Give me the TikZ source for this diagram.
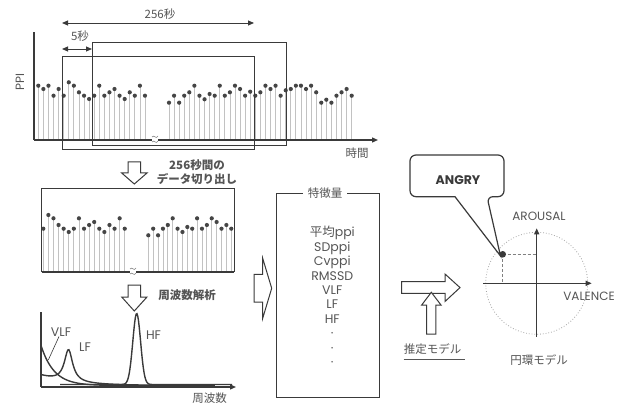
\documentclass[tikz,border=0pt]{standalone}
\usepackage{fontspec}
\setmainfont{Poppins}
\newfontfamily\jp{Noto Sans CJK JP}
\usetikzlibrary{arrows.meta}
\definecolor{ln}{HTML}{3A3A3A}
\definecolor{txt}{HTML}{555555}
\definecolor{stemc}{HTML}{C2C2C2}
\definecolor{dotc}{HTML}{454545}
\begin{document}
\begin{tikzpicture}[x=1pt,y=-1pt,
  axisline/.style={draw=ln,line width=1.3pt},
  stemline/.style={draw=stemc,line width=0.8pt},
  frame/.style={draw=ln,line width=1pt},
  blockarr/.style={draw=ln,line width=1pt,fill=white,line join=miter},
  jplbl/.style={text=txt,font=\jp\fontsize{11.5}{14}\selectfont,inner sep=0pt},
  latlbl/.style={text=txt,font=\fontsize{12}{14}\selectfont,inner sep=0pt},
  tip/.style={-{Triangle[length=6pt,width=5pt]}},
  dtip/.style={{Triangle[length=6pt,width=5pt]}-{Triangle[length=6pt,width=5pt]}},
  curve/.style={draw=ln,line width=1.4pt},
  squig/.style={draw=gray,line width=0.6pt}
]
\useasboundingbox (0,0) rectangle (625,404);
\fill[white] (0,0) rectangle (625,404);

% ================= top plot =================
\foreach \yy [count=\i from 0] in {85.7,89,85.7,95.7,89,95.7,82.3,85.7,92.3,95.7,99,95.7,85.7,95.7,92.3,89,95.7,99,92.3,95.7,85.7,95.7}{
  \pgfmathsetmacro\xx{38.3+5.08*\i}
  \draw[stemline] (\xx,140) -- (\xx,\yy);
  \fill[dotc] (\xx,\yy) circle[radius=2.1pt];
}
\foreach \yy [count=\i from 0] in {102.7,95.7,102.7,95.7,92.3,85.7,95.7,99.3,94,95.7,85.7,95.7,92.3,85.7,89,95.7,91.7,95.7,92.3,85.7,89,85.7,95.7,90.3,89,85.7,85.7,89,85.7,92.3,102.7,99.7,102.7,95.7,92.3,89,95.7}{
  \pgfmathsetmacro\xx{169+5.075*\i}
  \draw[stemline] (\xx,140) -- (\xx,\yy);
  \fill[dotc] (\xx,\yy) circle[radius=2.1pt];
}
\coordinate (o1) at (34,140);
\coordinate (y1) at (34,32);
\coordinate (x1) at (378,140);
\draw[axisline] (o1) -- (y1);
\draw[axisline,tip] (o1) -- (x1);
\node[latlbl,rotate=90] (ppi) at (20,82) {PPI};
\node[jplbl] (jikan) at (357,153) {時間};
% window rectangles
\draw[frame] (62,57) rectangle (254,150);
\draw[frame] (92,43) rectangle (286,146);
% span arrows
\coordinate (a256l) at (62,23);
\coordinate (a256r) at (254,23);
\draw[draw=ln,line width=0.9pt,dtip] (a256l) -- (a256r);
\node[jplbl] (t256) at (160,14) {256秒};
\coordinate (a5l) at (62,49);
\coordinate (a5r) at (92,49);
\draw[draw=ln,line width=0.9pt,dtip] (a5l) -- (a5r);
\node[jplbl] (t5) at (80,36) {5秒};
% break mark
\begin{scope}[shift={(155,139)}]
\fill[white] (-3,-4) rectangle (3,4);
\draw[squig] (-3,-2) .. controls (-1,-5) and (1,1) .. (3,-3);
\draw[squig] (-3,3) .. controls (-1,0) and (1,6) .. (3,2);
\end{scope}

% ================= arrow 1 =================
\draw[blockarr] (128,162) -- (140.5,162) -- (140.5,173) -- (147,173) -- (134.3,184) -- (121.7,173) -- (128,173) -- cycle;
\node[jplbl,font=\jp\bfseries\fontsize{11.5}{13.5}\selectfont,align=center] (cut) at (197,172) {256秒間の\\データ切り出し};

% ================= cut-out plot =================
\foreach \yy [count=\i from 0] in {228.7,215,218.3,225,228.7,232,228.7,218.3,228.7,225,222,228.7,232,225,228.7,218.3,228.7}{
  \pgfmathsetmacro\xx{43.3+5.09*\i}
  \draw[stemline] (\xx,272) -- (\xx,\yy);
  \fill[dotc] (\xx,\yy) circle[radius=2.1pt];
}
\foreach \yy [count=\i from 0] in {235.3,228.7,235.3,228.7,225,218.3,228.7,232,227,228.7,218.3,228.7,225,218.3,222,228.7,225,228.7}{
  \pgfmathsetmacro\xx{148.3+4.88*\i}
  \draw[stemline] (\xx,272) -- (\xx,\yy);
  \fill[dotc] (\xx,\yy) circle[radius=2.1pt];
}
\draw[frame] (41.5,272) -- (41.5,189) -- (234,189) -- (234,272);
\draw[axisline,line width=1.2pt] (41.5,272) -- (234,272);
\begin{scope}[shift={(133,271)}]
\fill[white] (-3,-4) rectangle (3,4);
\draw[squig] (-3,-2) .. controls (-1,-5) and (1,1) .. (3,-3);
\draw[squig] (-3,3) .. controls (-1,0) and (1,6) .. (3,2);
\end{scope}

% ================= arrow 2 =================
\draw[blockarr] (128,285) -- (140.5,285) -- (140.5,297) -- (147,297) -- (134.3,311) -- (121.7,297) -- (128,297) -- cycle;
\node[jplbl,font=\jp\bfseries\fontsize{11.5}{13.5}\selectfont] (fft) at (187,295) {周波数解析};

% ================= spectrum =================
\coordinate (o3) at (41,387);
\coordinate (y3) at (41,312);
\coordinate (x3) at (236,387);
\draw[axisline] (o3) -- (y3);
\draw[axisline,tip] (o3) -- (x3);
\draw[curve] plot[domain=41:215,samples=120] (\x,{385.5-40*exp(-(\x-41)/13)});
\draw[curve] plot[domain=41:205,samples=160] (\x,{385.5-10*exp(-(\x-41)/30)-32/(1+((\x-68.5)/5)^2)});
\draw[curve] plot[domain=60:232,samples=220] (\x,{384.5-71*exp(-((\x-136.7)/5.5)^2)});
\node[latlbl,font=\fontsize{12.5}{14}\selectfont] (vlf) at (61,332) {VLF};
\coordinate (vlfp) at (48.3,360);
\draw[draw=ln,line width=0.6pt] (vlf.south) ++(-2,0) -- (vlfp);
\node[latlbl,font=\fontsize{12.5}{14}\selectfont] (lf) at (85,347.5) {LF};
\node[latlbl,font=\fontsize{12.5}{14}\selectfont] (hf) at (153.5,335) {HF};
\node[jplbl] (shuha) at (209.5,398) {周波数};

% ================= features =================
\draw[blockarr] (254,274.3) -- (262.7,274.3) -- (262.7,258.3) -- (271.7,288.3) -- (262.7,318.3) -- (262.7,302) -- (254,302) -- cycle;
\draw[frame] (276,193.3) rectangle (379.5,397);
\node[jplbl,fill=white,inner xsep=5pt,inner ysep=1pt] (feat) at (325,193.3) {特徴量};
\node[latlbl,font=\fontsize{12.5}{14.4}\selectfont,align=center] (list) at (332.3,296.5)
  {{\jp 平均}ppi\\SDppi\\Cvppi\\RMSSD\\VLF\\LF\\HF\\·\\·\\·};

% ================= model arrows =================
\draw[blockarr] (401.7,281.7) -- (445,281.7) -- (445,274) -- (460,287.6) -- (445,301.5) -- (445,293.3) -- (401.7,293.3) -- cycle;
\draw[blockarr] (426.7,334) -- (426.7,305) -- (421.7,305) -- (431.3,292.3) -- (441,305) -- (435.9,305) -- (435.9,334) -- cycle;
\node[jplbl] (suitei) at (432.5,349) {推定モデル};
\draw[draw=txt,line width=0.7pt] (suitei.south west) ++(0,4.5) -- ++(61.5,0);

% ================= circumplex =================
\coordinate (c) at (536.7,283.3);
\draw[draw=gray!70,dotted,line width=0.8pt] (c) circle[radius=51pt];
\coordinate (hl) at (483.3,283.3);
\coordinate (hr) at (591.7,283.3);
\coordinate (vb) at (536.7,336.7);
\coordinate (vt) at (536.7,228.3);
\draw[axisline,tip] (hl) -- (hr);
\draw[axisline,tip] (vb) -- (vt);
\coordinate (pt) at (502.7,254.3);
\coordinate (pth) at (536.7,254.3);
\coordinate (ptv) at (502.7,283.3);
\draw[draw=gray,dashed,line width=0.9pt,dash pattern=on 3pt off 2pt] (pt) -- (pth);
\draw[draw=gray,dashed,line width=0.9pt,dash pattern=on 3pt off 2pt] (pt) -- (ptv);
\node[latlbl] (arousal) at (539,216.5) {AROUSAL};
\node[latlbl] (valence) at (589,296.5) {VALENCE};
\node[jplbl] (enkan) at (539,360) {円環モデル};
% callout
\draw[draw=ln,line width=1.2pt,fill=white,line join=miter,rounded corners=6pt]
  (457,155) -- (504,155) -- (504,196.7) -- (487,196.7) [sharp corners] -- (500.5,256) -- (455,196.7) [rounded corners=6pt] -- (410,196.7) -- (410,155) -- cycle;
\fill[ln] (pt) circle[radius=3.3pt];
\node[latlbl,font=\bfseries\fontsize{12.5}{14}\selectfont,text=ln] (angry) at (458,180) {ANGRY};
\end{tikzpicture}
\end{document}
